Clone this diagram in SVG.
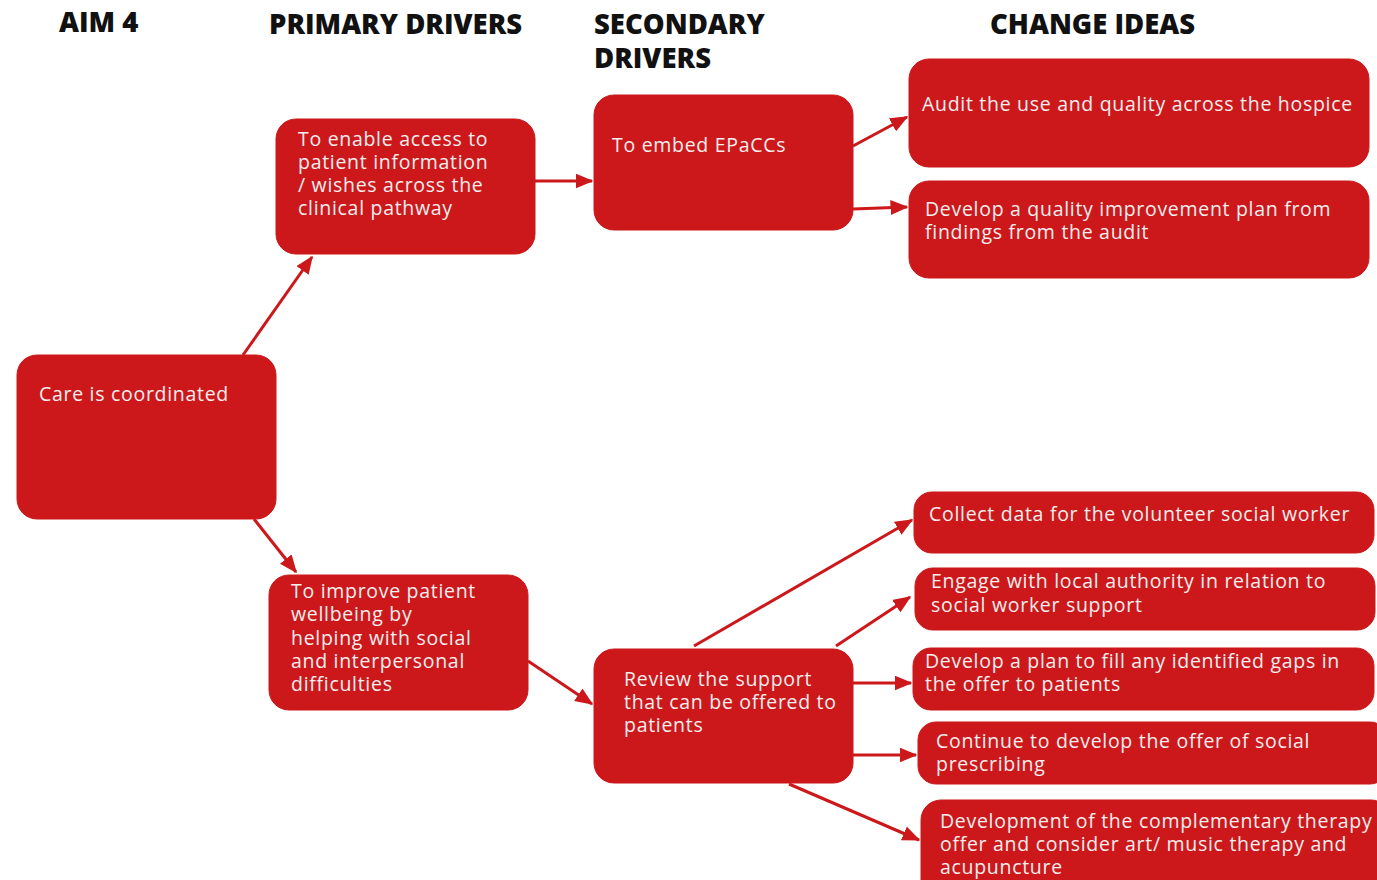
<svg xmlns="http://www.w3.org/2000/svg" width="1377" height="880" viewBox="0 0 1377 880">
<defs>
<marker id="ah" markerWidth="6" markerHeight="5" refX="5.5" refY="2.5" orient="auto" markerUnits="strokeWidth"><path d="M0,0 L6,2.5 L0,5 z" fill="#cc181b"/></marker>
<style>
.box{fill:#cc181b;stroke:#cc181b}
.t{font-family:"Open Sans","Liberation Sans",sans-serif;font-size:19.5px;letter-spacing:0.7px;fill:#f4eeee}
.h{font-family:"Open Sans","Liberation Sans",sans-serif;font-size:27.5px;font-weight:800;fill:#111}
.c{stroke:#cc181b;stroke-width:3;fill:none;marker-end:url(#ah)}
</style>
</defs>
<rect width="1377" height="880" fill="#fff"/>
<g id="headers">
<text class="h" x="59" y="32">AIM 4</text>
<text class="h" x="269" y="34">PRIMARY DRIVERS</text>
<text class="h" x="594" y="34">SECONDARY</text>
<text class="h" x="594" y="68">DRIVERS</text>
<text class="h" x="990" y="34">CHANGE IDEAS</text>
</g>
<g id="connectors">
<line class="c" x1="243" y1="355" x2="312" y2="257"/>
<line class="c" x1="254" y1="519" x2="296" y2="572"/>
<line class="c" x1="535" y1="181" x2="592" y2="181"/>
<line class="c" x1="853" y1="146" x2="907" y2="117"/>
<line class="c" x1="853" y1="209" x2="907" y2="207"/>
<line class="c" x1="528" y1="661" x2="592" y2="704"/>
<line class="c" x1="694" y1="646" x2="912" y2="520"/>
<line class="c" x1="836" y1="646" x2="910" y2="597"/>
<line class="c" x1="853" y1="683" x2="911" y2="683"/>
<line class="c" x1="853" y1="755" x2="916" y2="755"/>
<line class="c" x1="789" y1="784" x2="919" y2="840"/>
</g>
<g id="aim">
<rect class="box" x="17" y="355" width="259" height="164" rx="20"/>
<text class="t" x="39" y="401">Care is coordinated</text>
</g>
<g id="p1">
<rect class="box" x="276" y="119" width="259" height="135" rx="20"/>
<text class="t" x="298"><tspan x="298" y="146">To enable access to</tspan><tspan x="298" y="169">patient information</tspan><tspan x="298" y="192">/ wishes across the</tspan><tspan x="298" y="215">clinical pathway</tspan></text>
</g>
<g id="p2">
<rect class="box" x="269" y="575" width="259" height="135" rx="20"/>
<text class="t"><tspan x="291" y="598">To improve patient</tspan><tspan x="291" y="621">wellbeing by</tspan><tspan x="291" y="645">helping with social</tspan><tspan x="291" y="668">and interpersonal</tspan><tspan x="291" y="691">difficulties</tspan></text>
</g>
<g id="s1">
<rect class="box" x="594" y="95" width="259" height="135" rx="20"/>
<text class="t" x="612" y="152">To embed EPaCCs</text>
</g>
<g id="s2">
<rect class="box" x="594" y="649" width="259" height="134" rx="20"/>
<text class="t"><tspan x="624" y="686">Review the support</tspan><tspan x="624" y="709">that can be offered to</tspan><tspan x="624" y="732">patients</tspan></text>
</g>
<g id="c1">
<rect class="box" x="909" y="59" width="460" height="108" rx="20"/>
<text class="t" x="922" y="111">Audit the use and quality across the hospice</text>
</g>
<g id="c2">
<rect class="box" x="909" y="181" width="460" height="97" rx="20"/>
<text class="t"><tspan x="925" y="216">Develop a quality improvement plan from</tspan><tspan x="925" y="239">findings from the audit</tspan></text>
</g>
<g id="c3">
<rect class="box" x="914" y="492" width="460" height="61" rx="18"/>
<text class="t" x="929" y="521">Collect data for the volunteer social worker</text>
</g>
<g id="c4">
<rect class="box" x="915" y="568" width="460" height="62" rx="18"/>
<text class="t"><tspan x="931" y="588">Engage with local authority in relation to</tspan><tspan x="931" y="612">social worker support</tspan></text>
</g>
<g id="c5">
<rect class="box" x="913" y="648" width="461" height="62" rx="18"/>
<text class="t"><tspan x="925" y="668">Develop a plan to fill any identified gaps in</tspan><tspan x="925" y="691">the offer to patients</tspan></text>
</g>
<g id="c6">
<rect class="box" x="918" y="722" width="470" height="62" rx="18"/>
<text class="t"><tspan x="936" y="748">Continue to develop the offer of social</tspan><tspan x="936" y="771">prescribing</tspan></text>
</g>
<g id="c7">
<rect class="box" x="921" y="800" width="470" height="100" rx="20"/>
<text class="t"><tspan x="940" y="828">Development of the complementary therapy</tspan><tspan x="940" y="851">offer and consider art/ music therapy and</tspan><tspan x="940" y="874">acupuncture</tspan></text>
</g>
</svg>
